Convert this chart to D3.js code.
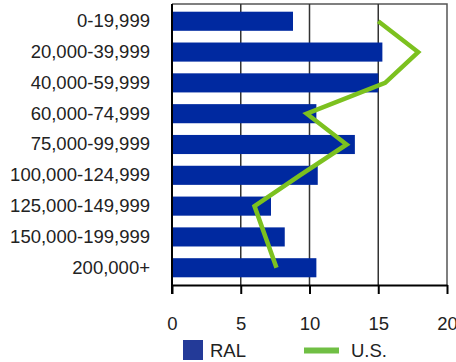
<!DOCTYPE html>
<html>
<head>
<meta charset="utf-8">
<script src="https://cdn.jsdelivr.net/npm/d3@7"></script>
<style>
  html, body { margin: 0; padding: 0; background: #fff; }
  svg { display: block; font-family: "Liberation Sans", Arial, sans-serif; }
</style>
</head>
<body>
<svg id="chart" width="456" height="362"></svg>
<script>
// Household income brackets
const categories = [
  "0-19,999", "20,000-39,999", "40,000-59,999", "60,000-74,999",
  "75,000-99,999", "100,000-124,999", "125,000-149,999",
  "150,000-199,999", "200,000+"
];
// Share of households (%)
const ralValues = [8.8, 15.3, 15.0, 10.5, 13.3, 10.6, 7.2, 8.2, 10.5];
const usValues  = [15.0, 17.9, 15.5, 9.8, 12.7, 9.3, 6.0, 6.8, 7.6];
const xTicks = [0, 5, 10, 15, 20];
const seriesNames = ["RAL", "U.S."];

const svg = d3.select("#chart");
const plot = { left: 172, right: 447, top: 4, bottom: 285 };
const fontSize = 18.5;

const x = d3.scaleLinear().domain([0, 20]).range([plot.left, plot.right]);
const y = d3.scaleBand().domain(categories).range([plot.top, plot.bottom])
  .paddingInner(0.38).paddingOuter(0.25);

// plot frame (top and right edges)
svg.append("path")
  .attr("d", `M${plot.left},${plot.top}H${plot.right}V${plot.bottom}`)
  .attr("fill", "none").attr("stroke", "#555").attr("stroke-width", 1.5);

// vertical gridlines
svg.append("g").selectAll("line")
  .data(xTicks.filter(d => d > 0 && d < 20))
  .join("line")
  .attr("x1", d => x(d)).attr("x2", d => x(d))
  .attr("y1", plot.top).attr("y2", plot.bottom)
  .attr("stroke", "#333").attr("stroke-width", 1.5);

// bars
svg.append("g").selectAll("rect")
  .data(categories)
  .join("rect")
  .attr("x", x(0))
  .attr("y", d => y(d))
  .attr("width", (d, i) => x(ralValues[i]) - x(0))
  .attr("height", y.bandwidth())
  .attr("fill", "#0029A0");

// U.S. line
const line = d3.line()
  .x(d => x(d.v))
  .y(d => y(d.c) + y.bandwidth() / 2);
svg.append("path")
  .datum(categories.map((c, i) => ({ c, v: usValues[i] })))
  .attr("d", line)
  .attr("fill", "none")
  .attr("stroke", "#7CC11F")
  .attr("stroke-width", 4.5)
  .attr("stroke-linejoin", "miter");

// x axis
const xAxis = svg.append("g")
  .attr("transform", `translate(0,${plot.bottom})`)
  .call(d3.axisBottom(x).tickValues(xTicks).tickSize(9).tickPadding(23).tickSizeOuter(0));
xAxis.select(".domain").attr("stroke", "#000").attr("stroke-width", 2);
xAxis.selectAll(".tick line").attr("stroke", "#000").attr("stroke-width", 2);
xAxis.selectAll("text").attr("font-size", fontSize).attr("fill", "#222")
  .attr("font-family", "Liberation Sans, Arial, sans-serif");

// y axis
const yAxis = svg.append("g")
  .attr("transform", `translate(${plot.left},0)`)
  .call(d3.axisLeft(y).tickSize(0).tickPadding(22));
yAxis.select(".domain").remove();
yAxis.selectAll("text").attr("font-size", fontSize).attr("fill", "#222")
  .attr("font-family", "Liberation Sans, Arial, sans-serif");
svg.append("line")
  .attr("x1", plot.left).attr("x2", plot.left)
  .attr("y1", plot.top).attr("y2", plot.bottom + 9)
  .attr("stroke", "#000").attr("stroke-width", 2);

// legend
const legend = svg.append("g");
legend.append("rect").attr("x", 183).attr("y", 340).attr("width", 20).attr("height", 20)
  .attr("fill", "#233A98");
legend.append("text").attr("x", 210).attr("y", 357).text(seriesNames[0])
  .attr("font-size", fontSize).attr("fill", "#222");
legend.append("line").attr("x1", 304).attr("x2", 339).attr("y1", 350.5).attr("y2", 350.5)
  .attr("stroke", "#70BF44").attr("stroke-width", 6);
legend.append("text").attr("x", 351).attr("y", 357).text(seriesNames[1])
  .attr("font-size", fontSize).attr("fill", "#222");
</script>
</body>
</html>
